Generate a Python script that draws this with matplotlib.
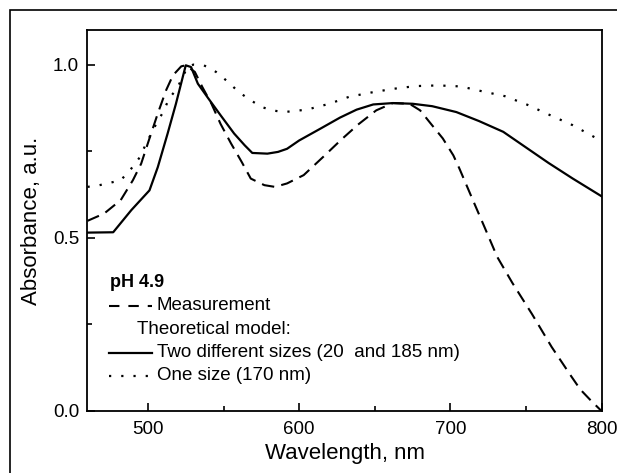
import numpy as np
import matplotlib
matplotlib.use("Agg")
import matplotlib.pyplot as plt
from matplotlib.patches import Rectangle
from matplotlib.lines import Line2D
from matplotlib.ticker import MultipleLocator

plt.rcParams["font.family"] = ["Liberation Sans", "DejaVu Sans"]

# measured spectrum (dashed)
wl_meas = [460, 471, 482, 490, 495.5, 501, 506.5, 512, 516.5, 522, 525, 531, 536, 542,
           548, 555, 562, 568, 577, 584, 592, 603, 616, 628, 639, 651, 662, 673, 680,
           687, 695, 702, 706, 715, 722.5, 731, 741, 754, 767, 780, 786, 793, 800]
abs_meas = [0.549, 0.570, 0.609, 0.666, 0.714, 0.787, 0.859, 0.926, 0.969, 0.995, 0.998,
            0.979, 0.935, 0.887, 0.829, 0.772, 0.719, 0.671, 0.652, 0.647, 0.657, 0.681,
            0.734, 0.784, 0.827, 0.868, 0.889, 0.887, 0.868, 0.830, 0.787, 0.738, 0.700,
            0.608, 0.532, 0.445, 0.37, 0.28, 0.185, 0.10, 0.062, 0.03, 0.0]

# model: two different sizes (solid)
wl_two = [460, 477, 489, 501, 506.5, 513, 518.5, 523, 525, 528.5, 533, 540, 548, 557,
          564, 569, 579, 586, 592, 600, 614, 627, 638, 649, 662, 675, 688, 704, 719,
          735, 750, 765, 781, 800]
abs_two = [0.515, 0.516, 0.580, 0.637, 0.704, 0.801, 0.887, 0.964, 0.998, 0.993, 0.945,
           0.902, 0.854, 0.801, 0.767, 0.745, 0.743, 0.748, 0.757, 0.781, 0.815, 0.847,
           0.870, 0.885, 0.889, 0.887, 0.880, 0.863, 0.837, 0.806, 0.761, 0.716, 0.671,
           0.620]

# model: one size (dotted)
wl_one = [460, 468, 482, 489, 494, 501, 505, 510, 514, 519, 523, 526, 530, 537, 545, 553,
          560, 568, 575, 582, 590, 605, 620, 633, 647, 662, 677, 692, 707, 721, 736, 751,
          765, 781, 796, 800]
abs_one = [0.647, 0.652, 0.666, 0.700, 0.729, 0.791, 0.825, 0.863, 0.902, 0.930, 0.964,
           0.993, 1.0, 0.998, 0.979, 0.950, 0.921, 0.897, 0.878, 0.868, 0.863, 0.870,
           0.887, 0.907, 0.919, 0.930, 0.938, 0.940, 0.937, 0.923, 0.909, 0.884, 0.856,
           0.825, 0.789, 0.783]

fig = plt.figure(figsize=(6.17, 4.73), dpi=100)
ax = fig.add_axes([0.1418, 0.1311, 0.8331, 0.8055])

dash_style = (0, (6, 3.5))
dot_style = (0, (1, 4.5))
ax.plot(wl_meas, abs_meas, color="black", lw=1.5, linestyle=dash_style)
ax.plot(wl_two, abs_two, color="black", lw=1.6)
ax.plot(wl_one, abs_one, color="black", lw=1.6, linestyle=dot_style, dash_capstyle="butt")

ax.set_xlim(460, 800)
ax.set_ylim(0, 1.1)
ax.xaxis.set_major_locator(MultipleLocator(100))
ax.xaxis.set_minor_locator(MultipleLocator(50))
ax.yaxis.set_major_locator(MultipleLocator(0.5))
ax.yaxis.set_minor_locator(MultipleLocator(0.25))
ax.yaxis.set_major_formatter(matplotlib.ticker.FormatStrFormatter("%.1f"))
ax.tick_params(which="both", direction="in", labelsize=13.5, width=1.2, top=False, right=False)
ax.tick_params(which="major", length=6)
ax.tick_params(which="minor", length=3.5)
ax.tick_params(axis="x", pad=7)
ax.tick_params(axis="y", pad=6)
for sp in ax.spines.values():
    sp.set_linewidth(1.3)

ax.set_xlabel("Wavelength, nm", fontsize=16, labelpad=4)
ax.set_ylabel("Absorbance, a.u.", fontsize=16, labelpad=8)

# legend drawn by hand
tr = ax.transAxes
ax.text(0.044, 0.336, "pH 4.9", transform=tr, fontsize=13, fontweight="bold", va="center")
ax.add_line(Line2D([0.041, 0.126], [0.276, 0.276], transform=tr, color="black", lw=1.5,
                   linestyle=(0, (5, 4.3))))
ax.text(0.135, 0.276, "Measurement", transform=tr, fontsize=13.5, va="center")
ax.text(0.097, 0.215, "Theoretical model:", transform=tr, fontsize=13.5, va="center")
ax.add_line(Line2D([0.041, 0.126], [0.153, 0.153], transform=tr, color="black", lw=1.6))
ax.text(0.135, 0.153, "Two different sizes (20  and 185 nm)", transform=tr, fontsize=13.5, va="center")
ax.add_line(Line2D([0.041, 0.126], [0.092, 0.092], transform=tr, color="black", lw=1.6,
                   linestyle=dot_style, dash_capstyle="butt"))
ax.text(0.135, 0.092, "One size (170 nm)", transform=tr, fontsize=13.5, va="center")

# outer frame around the figure
fig.patches.append(Rectangle((0.0154, -0.5), 2, 1.478, transform=fig.transFigure,
                             fill=False, edgecolor="black", lw=1.2))

fig.savefig("out.png", dpi=100)
